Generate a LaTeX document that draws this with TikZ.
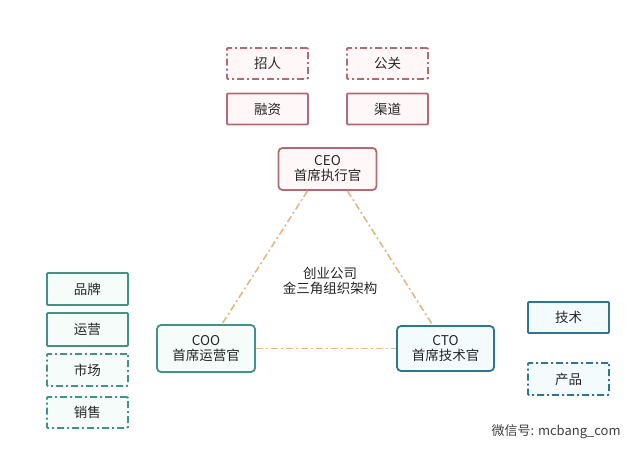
\documentclass[tikz,border=0pt]{standalone}
\usepackage{fontspec}
\setmainfont{Noto Sans CJK SC}
\usepackage{xcolor}
\usetikzlibrary{calc}
\definecolor{rosel}{HTML}{B46A75}
\definecolor{rosef}{HTML}{FFF7F8}
\definecolor{greenl}{HTML}{3F9482}
\definecolor{greenf}{HTML}{F5FCFA}
\definecolor{bluel}{HTML}{2F7591}
\definecolor{bluef}{HTML}{F4FBFD}
\definecolor{linkc}{HTML}{E2B784}

\begin{document}
\begin{tikzpicture}[x=1pt, y=-1pt,
  font=\fontsize{13.5}{15}\selectfont, text=black!85,
  box/.style={draw, line width=1.8pt, rounded corners=1pt, minimum width=81pt, minimum height=31pt, inner sep=0pt},
  chief/.style={draw, line width=1.8pt, rounded corners=4pt, minimum width=98pt, minimum height=45pt, inner sep=0pt, align=center},
  dashdot/.style={dash pattern=on 7pt off 3pt on 2pt off 3pt},
  rosebox/.style={box, draw=rosel, fill=rosef},
  greenbox/.style={box, draw=greenl, fill=greenf},
  bluebox/.style={box, draw=bluel, fill=bluef},
  link/.style={draw=linkc, line width=1.6pt, dashdot}]
\useasboundingbox (0,0) rectangle (641,461);

% top group
\node[rosebox, dashdot] (zhaoren) at (267.5,63.5) {招人};
\node[rosebox, dashdot] (gongguan) at (387.5,63.5) {公关};
\node[rosebox] (rongzi) at (267.5,109) {融资};
\node[rosebox] (qudao) at (387.5,109) {渠道};

% the three chiefs
\node[chief, draw=rosel, fill=rosef, minimum height=42pt] (ceo) at (327.5,169) {CEO\\首席执行官};
\node[chief, draw=greenl, fill=greenf, minimum height=47pt] (coo) at (206,348.5) {COO\\首席运营官};
\node[chief, draw=bluel, fill=bluef, minimum width=97pt] (cto) at (445.5,348.5) {CTO\\首席技术官};

\node[align=center] (title) at (330,280.5) {创业公司\\金三角组织架构};

% left group
\node[greenbox, minimum height=32pt] (pinpai) at (87.5,289) {品牌};
\node[greenbox, minimum height=33pt] (yunying) at (87.5,329.5) {运营};
\node[greenbox, dashdot, minimum height=32pt] (shichang) at (87.5,370) {市场};
\node[greenbox, dashdot, minimum height=31pt] (xiaoshou) at (87.5,412.5) {销售};

% right group
\node[bluebox] (jishu) at (568.5,317.5) {技术};
\node[bluebox, dashdot, minimum height=32pt] (chanpin) at (568.5,379) {产品};

% links
\coordinate (ceoL) at ($(ceo.south west)!0.3!(ceo.south east)$);
\coordinate (ceoR) at ($(ceo.south west)!0.7!(ceo.south east)$);
\coordinate (cooT) at ($(coo.north west)!0.66!(coo.north east)$);
\coordinate (ctoT) at ($(cto.north west)!0.37!(cto.north east)$);
\draw[link] (ceoL) -- (cooT);
\draw[link] (ceoR) -- (ctoT);
\draw[link] (coo.east) -- (cto.west);

\node[text=black!75, font=\fontsize{13}{15}\selectfont, anchor=west] (wx) at (488,432) {微信号: mcbang\_com};
\end{tikzpicture}
\end{document}
